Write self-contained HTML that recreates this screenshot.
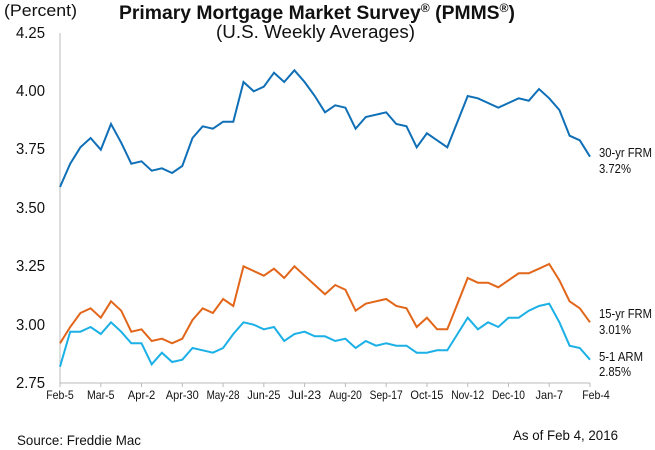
<!DOCTYPE html>
<html><head><meta charset="utf-8"><style>
body{margin:0;background:#fff;}
svg{display:block;font-family:"Liberation Sans",Arial,sans-serif;}
</style></head><body>
<svg id="s" width="655" height="450" viewBox="0 0 655 450">
<text x="4" y="16" font-size="17" fill="#111" textLength="73" lengthAdjust="spacingAndGlyphs">(Percent)</text>
<text x="119" y="19" font-size="19" font-weight="bold" fill="#111" textLength="396" lengthAdjust="spacingAndGlyphs">Primary Mortgage Market Survey<tspan font-size="12" dy="-7">®</tspan><tspan dy="7"> (PMMS</tspan><tspan font-size="12" dy="-7">®</tspan><tspan dy="7">)</tspan></text>
<text x="216" y="38" font-size="18" fill="#111" textLength="199" lengthAdjust="spacingAndGlyphs">(U.S. Weekly Averages)</text>
<g font-size="16" fill="#111">
<text x="16" y="38" textLength="29" lengthAdjust="spacingAndGlyphs">4.25</text>
<text x="16" y="96" textLength="29" lengthAdjust="spacingAndGlyphs">4.00</text>
<text x="16" y="154" textLength="29" lengthAdjust="spacingAndGlyphs">3.75</text>
<text x="16" y="213" textLength="29" lengthAdjust="spacingAndGlyphs">3.50</text>
<text x="16" y="271" textLength="29" lengthAdjust="spacingAndGlyphs">3.25</text>
<text x="16" y="330" textLength="29" lengthAdjust="spacingAndGlyphs">3.00</text>
<text x="16" y="388" textLength="29" lengthAdjust="spacingAndGlyphs">2.75</text>
</g>
<line x1="60" y1="33" x2="60" y2="383" stroke="#bbb"/>
<line x1="60" y1="383" x2="590" y2="383" stroke="#bbb"/>
<g id="ticks"></g>
<g font-size="12" fill="#111" text-anchor="middle" id="xl"></g>
<g font-size="13" fill="#111">
<text x="599" y="157" textLength="53" lengthAdjust="spacingAndGlyphs">30-yr FRM</text><text x="599" y="173" textLength="32" lengthAdjust="spacingAndGlyphs">3.72%</text>
<text x="599" y="318" textLength="53" lengthAdjust="spacingAndGlyphs">15-yr FRM</text><text x="599" y="334" textLength="32" lengthAdjust="spacingAndGlyphs">3.01%</text>
<text x="599" y="361" textLength="44" lengthAdjust="spacingAndGlyphs">5-1 ARM</text><text x="599" y="376" textLength="32" lengthAdjust="spacingAndGlyphs">2.85%</text>
</g>
<text x="17" y="445" font-size="14" fill="#111" textLength="124" lengthAdjust="spacingAndGlyphs">Source: Freddie Mac</text>
<text x="513" y="440" font-size="14" fill="#111" textLength="105" lengthAdjust="spacingAndGlyphs">As of Feb 4, 2016</text>
<polyline id="a" fill="none" stroke="#0f6fb7" stroke-width="2"/>
<polyline id="b" fill="none" stroke="#e2661a" stroke-width="2"/>
<polyline id="c" fill="none" stroke="#1bb0e6" stroke-width="2"/>
</svg>
<script>
var A=[3.59,3.69,3.76,3.80,3.75,3.86,3.78,3.69,3.70,3.66,3.67,3.65,3.68,3.80,3.85,3.84,3.87,3.87,4.04,4.00,4.02,4.08,4.04,4.09,4.04,3.98,3.91,3.94,3.93,3.84,3.89,3.90,3.91,3.86,3.85,3.76,3.82,3.79,3.76,3.87,3.98,3.97,3.95,3.93,3.95,3.97,3.96,4.01,3.97,3.92,3.81,3.79,3.72];
var B=[2.92,2.99,3.05,3.07,3.03,3.10,3.06,2.97,2.98,2.93,2.94,2.92,2.94,3.02,3.07,3.05,3.11,3.08,3.25,3.23,3.21,3.24,3.20,3.25,3.21,3.17,3.13,3.17,3.15,3.06,3.09,3.10,3.11,3.08,3.07,2.99,3.03,2.98,2.98,3.09,3.20,3.18,3.18,3.16,3.19,3.22,3.22,3.24,3.26,3.19,3.10,3.07,3.01];
var C=[2.82,2.97,2.97,2.99,2.96,3.01,2.97,2.92,2.92,2.83,2.88,2.84,2.85,2.90,2.89,2.88,2.90,2.96,3.01,3.00,2.98,2.99,2.93,2.96,2.97,2.95,2.95,2.93,2.94,2.90,2.93,2.91,2.92,2.91,2.91,2.88,2.88,2.89,2.89,2.96,3.03,2.98,3.01,2.99,3.03,3.03,3.06,3.08,3.09,3.01,2.91,2.90,2.85];
function X(i){return 60+i*(530/52);}function Y(v){return 383-(v-2.75)/1.5*350;}
function P(d){return d.map(function(v,i){return X(i).toFixed(1)+","+Y(v).toFixed(1)}).join(" ");}
document.getElementById("a").setAttribute("points",P(A));
document.getElementById("b").setAttribute("points",P(B));
document.getElementById("c").setAttribute("points",P(C));
var L=["Feb-5","Mar-5","Apr-2","Apr-30","May-28","Jun-25","Jul-23","Aug-20","Sep-17","Oct-15","Nov-12","Dec-10","Jan-7","Feb-4"];
var t="",l="";
for(var k=0;k<14;k++){var x=X(k*4);var w=L[k].length*5.5;t+='<line x1="'+x+'" y1="383" x2="'+x+'" y2="387" stroke="#bbb"/>';l+='<text x="'+(x+(k==13?6:0))+'" y="399" textLength="'+w+'" lengthAdjust="spacingAndGlyphs">'+L[k]+'</text>';}
document.getElementById("ticks").innerHTML=t;document.getElementById("xl").innerHTML=l;
</script>
</body></html>
